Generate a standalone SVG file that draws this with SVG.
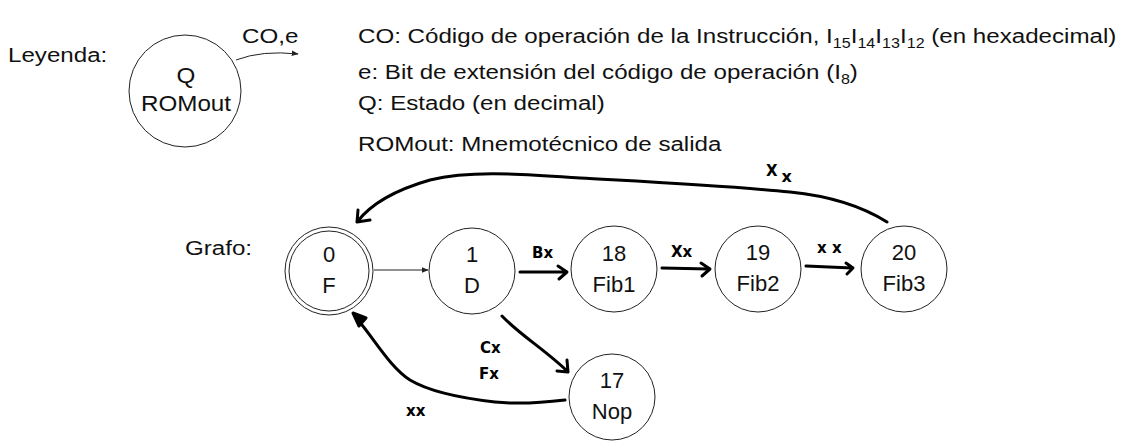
<svg xmlns="http://www.w3.org/2000/svg" width="1126" height="448" viewBox="0 0 1126 448">
<defs>
<style>
.t{font-family:"Liberation Sans",Arial,sans-serif;font-size:21px;fill:#111}
.n{fill:#fff;stroke:#222;stroke-width:1}
.c{fill:#111;font-family:"Liberation Sans",Arial,sans-serif;font-size:22px;text-anchor:middle}
.h{font-family:"DejaVu Sans",sans-serif;font-weight:bold;font-size:15px;fill:#000}
.e{fill:none;stroke:#000;stroke-width:3;stroke-linecap:round;stroke-linejoin:round}
.thin{fill:none;stroke:#222;stroke-width:1}
</style>
<marker id="ah" viewBox="0 0 10 10" refX="9" refY="5" markerWidth="7" markerHeight="7" orient="auto" markerUnits="userSpaceOnUse">
<path d="M0,1 L10,5 L0,9 z" fill="#222"/>
</marker>
</defs>
<rect width="1126" height="448" fill="#fff"/>
<text class="t" transform="translate(8 62) scale(1.15 1)">Leyenda:</text>
<g id="legend-node">
<circle class="n" cx="185" cy="91" r="56"/>
<text class="c" transform="translate(186 83) scale(1.1 1)">Q</text>
<text class="c" transform="translate(186 111) scale(1.1 1)">ROMout</text>
</g>
<g id="legend-text">
<text class="t" transform="translate(242 43) scale(1.15 1)">CO,e</text>
<text class="t" transform="translate(358 43) scale(1.15 1)">CO: Código de operación de la Instrucción, I<tspan font-size="14" dy="5">15</tspan><tspan dy="-5">I</tspan><tspan font-size="14" dy="5">14</tspan><tspan dy="-5">I</tspan><tspan font-size="14" dy="5">13</tspan><tspan dy="-5">I</tspan><tspan font-size="14" dy="5">12</tspan><tspan dy="-5"> (en hexadecimal)</tspan></text>
<text class="t" transform="translate(358 79) scale(1.15 1)">e: Bit de extensión del código de operación (I<tspan font-size="14" dy="5">8</tspan><tspan dy="-5">)</tspan></text>
<text class="t" transform="translate(358 110) scale(1.15 1)">Q: Estado (en decimal)</text>
<text class="t" transform="translate(358 151) scale(1.15 1)">ROMout: Mnemotécnico de salida</text>
</g>
<text class="t" transform="translate(185 255) scale(1.15 1)">Grafo:</text>
<g id="connectors">
<path class="thin" d="M236,60 Q262,50 298,54" marker-end="url(#ah)"/>
<path class="thin" d="M374,270 L428,270" marker-end="url(#ah)"/>
<path class="e" d="M520,272 L566,272 M558,266 L567,272 L559,279"/>
<path class="e" d="M662,268 L709,269 M701,263 L710,269 L702,276"/>
<path class="e" d="M806,266 L852,268 M846,263 L853,268 L847,274"/>
<path class="e" d="M887,222 C860,205 830,196 790,192 C730,186 650,182 580,178 C520,174 470,170 430,180 C395,190 370,205 357,222 M357,222 L358,210 M357,222 L370,220"/>
<path class="e" d="M502,316 C520,335 548,352 568,372 M568,372 L567,360 M568,372 L557,371"/>
<path class="e" d="M565,400 C540,403 515,404 495,402 C460,398 430,392 410,380 C390,367 375,340 358,320"/>
<path d="M353,313 L366,318 L359,326 z" fill="#000" stroke="#000" stroke-width="3" stroke-linejoin="round"/>
</g>
<g id="labels">
<text class="h" x="532" y="258" font-size="16">Bx</text>
<text class="h" x="671" y="257" font-size="17">Xx</text>
<text class="h" x="817" y="253" font-size="11">x x</text>
<text class="h" x="766" y="176" font-size="19">X<tspan dx="4" dy="6" font-size="16">x</tspan></text>
<text class="h" x="480" y="353">Cx</text>
<text class="h" x="479" y="379" font-size="17">Fx</text>
<text class="h" x="406" y="416" font-size="20">xx</text>
</g>
<g id="node-0">
<circle class="n" cx="329" cy="271" r="44"/>
<circle class="n" cx="329" cy="271" r="40"/>
<text class="c" x="329" y="262">0</text>
<text class="c" x="329" y="293">F</text>
</g>
<g id="node-1">
<circle class="n" cx="472" cy="271" r="43"/>
<text class="c" x="472" y="262">1</text>
<text class="c" x="472" y="293">D</text>
</g>
<g id="node-18">
<circle class="n" cx="614" cy="269" r="43"/>
<text class="c" x="614" y="261">18</text>
<text class="c" x="614" y="292">Fib1</text>
</g>
<g id="node-19">
<circle class="n" cx="758" cy="269" r="43"/>
<text class="c" x="758" y="260">19</text>
<text class="c" x="758" y="291">Fib2</text>
</g>
<g id="node-20">
<circle class="n" cx="904" cy="269" r="43"/>
<text class="c" x="904" y="260">20</text>
<text class="c" x="904" y="291">Fib3</text>
</g>
<g id="node-17">
<circle class="n" cx="612" cy="397" r="43"/>
<text class="c" x="612" y="388">17</text>
<text class="c" x="612" y="419">Nop</text>
</g>
</svg>
